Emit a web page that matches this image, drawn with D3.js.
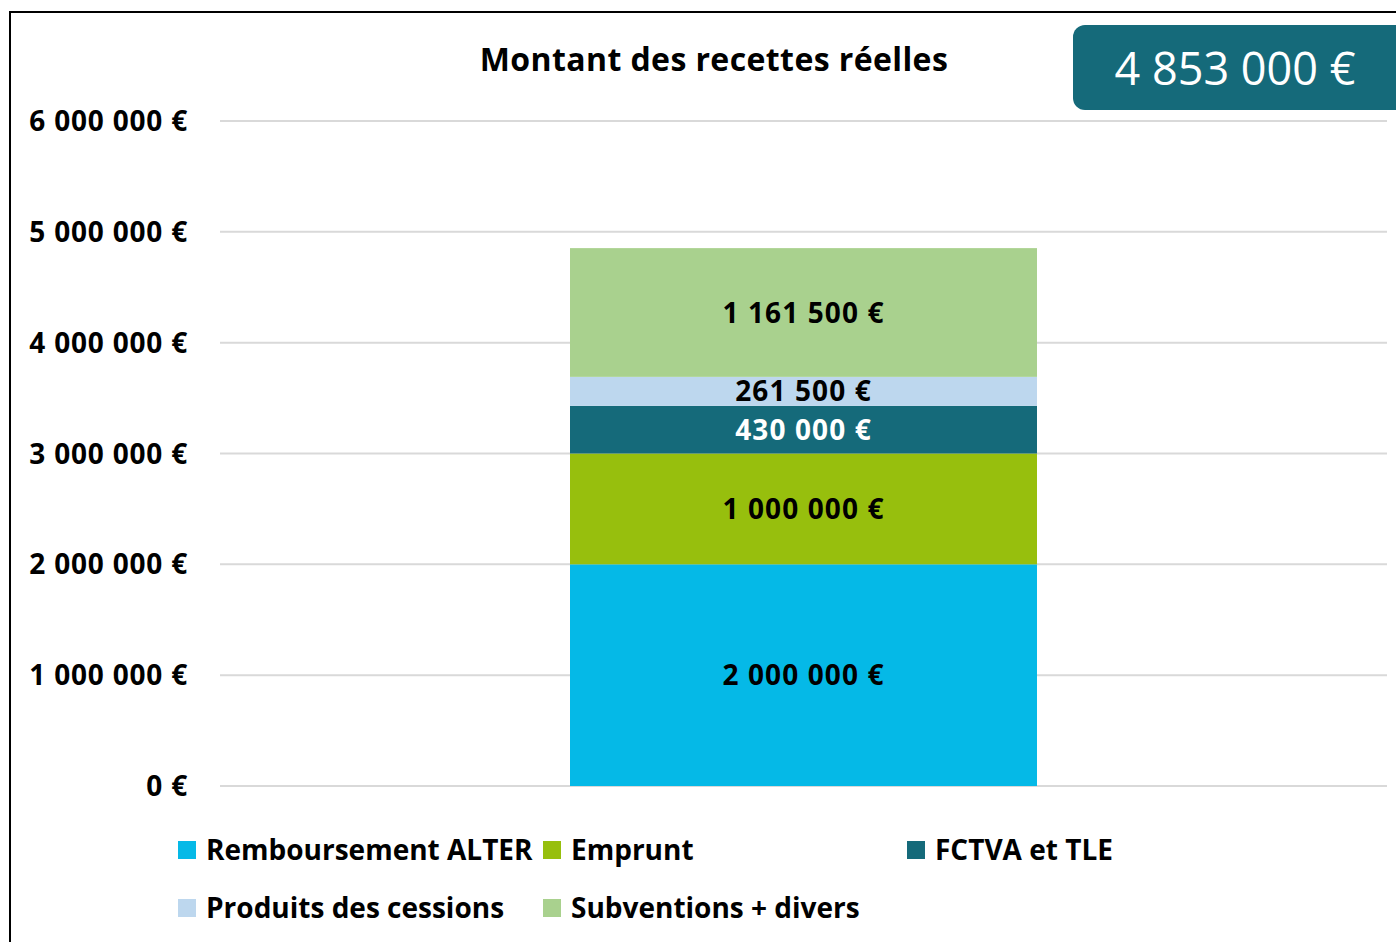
<!DOCTYPE html>
<html>
<head>
<meta charset="utf-8">
<script src="https://cdn.jsdelivr.net/npm/d3@7"></script>
<style>
  html, body { margin: 0; padding: 0; background: #fff; }
  svg { display: block; font-family: "Open Sans", Lato, sans-serif; }
</style>
</head>
<body>
<div id="chart"></div>
<script>
const categories = ["Recettes"]
const seriesNames = ["Remboursement ALTER", "Emprunt", "FCTVA et TLE", "Produits des cessions", "Subventions + divers"]
const seriesValues = [2000000, 1000000, 430000, 261500, 1161500]
const seriesColors = ["#05b9e7", "#97bf0d", "#156a7a", "#bdd7ee", "#a9d18e"]
const labelColors = ["#000", "#000", "#fff", "#000", "#000"]
const yTicks = [0, 1000000, 2000000, 3000000, 4000000, 5000000, 6000000]
const totalLabel = "4 853 000 €"
const title = "Montant des recettes réelles"

const width = 1396, height = 942
const margin = { top: 121, right: 9, bottom: 156, left: 220 }

const fmt = v => d3.format(",")(v).replace(/,/g, " ") + " €"

const svg = d3.select("#chart").append("svg")
  .attr("width", width)
  .attr("height", height)

// frame (cropped on right and bottom)
svg.append("path")
  .attr("d", `M10,${height} V12 H${width}`)
  .attr("fill", "none")
  .attr("stroke", "#000")
  .attr("stroke-width", 2)

const y = d3.scaleLinear()
  .domain([0, 6000000])
  .range([height - margin.bottom, margin.top])

// gridlines
svg.append("g")
  .selectAll("line")
  .data(yTicks)
  .join("line")
  .attr("x1", margin.left)
  .attr("x2", width - margin.right)
  .attr("y1", d => y(d))
  .attr("y2", d => y(d))
  .attr("stroke", "#d9d9d9")
  .attr("stroke-width", 2)

// y axis labels
svg.append("g")
  .selectAll("text")
  .data(yTicks)
  .join("text")
  .attr("x", 188)
  .attr("y", d => y(d))
  .attr("dy", "0.36em")
  .attr("text-anchor", "end")
  .attr("font-weight", 700)
  .attr("font-size", 28)
  .attr("letter-spacing", 0.8)
  .text(d => fmt(d))

// stacked bar
const table = [Object.fromEntries(seriesNames.map((s, i) => [s, seriesValues[i]]))]
const stacked = d3.stack().keys(seriesNames)(table)

const bw = 467
const bx = 570

const seg = svg.append("g")
  .selectAll("g")
  .data(stacked)
  .join("g")

seg.append("rect")
  .attr("x", bx)
  .attr("width", bw)
  .attr("y", d => y(d[0][1]))
  .attr("height", d => y(d[0][0]) - y(d[0][1]))
  .attr("fill", (d, i) => seriesColors[i])

seg.append("text")
  .attr("x", bx + bw / 2)
  .attr("y", d => (y(d[0][0]) + y(d[0][1])) / 2)
  .attr("dy", "0.36em")
  .attr("text-anchor", "middle")
  .attr("font-weight", 700)
  .attr("font-size", 28)
  .attr("letter-spacing", 1.1)
  .attr("fill", (d, i) => labelColors[i])
  .text((d, i) => fmt(seriesValues[i]))

// title
svg.append("text")
  .attr("x", 714)
  .attr("y", 60)
  .attr("dy", "0.35em")
  .attr("text-anchor", "middle")
  .attr("font-weight", 700)
  .attr("font-size", 32)
  .attr("letter-spacing", 0.4)
  .text(title)

// total box
svg.append("rect")
  .attr("x", 1073)
  .attr("y", 25)
  .attr("width", 340)
  .attr("height", 85)
  .attr("rx", 12)
  .attr("fill", "#156a7a")

svg.append("text")
  .attr("x", 1235)
  .attr("y", 69)
  .attr("dy", "0.35em")
  .attr("text-anchor", "middle")
  .attr("font-size", 45)
  .attr("fill", "#fff")
  .text(totalLabel)

// legend
const legendPos = [[178, 850], [543, 850], [907, 850], [178, 908], [543, 908]]
const lg = svg.append("g")
  .selectAll("g")
  .data(seriesNames)
  .join("g")
  .attr("transform", (d, i) => `translate(${legendPos[i][0]},${legendPos[i][1]})`)

lg.append("rect")
  .attr("x", 0)
  .attr("y", -9)
  .attr("width", 18)
  .attr("height", 18)
  .attr("fill", (d, i) => seriesColors[i])

lg.append("text")
  .attr("x", 28)
  .attr("y", 0)
  .attr("dy", "0.36em")
  .attr("font-weight", 700)
  .attr("font-size", 28)
  .text(d => d)
</script>
</body>
</html>
